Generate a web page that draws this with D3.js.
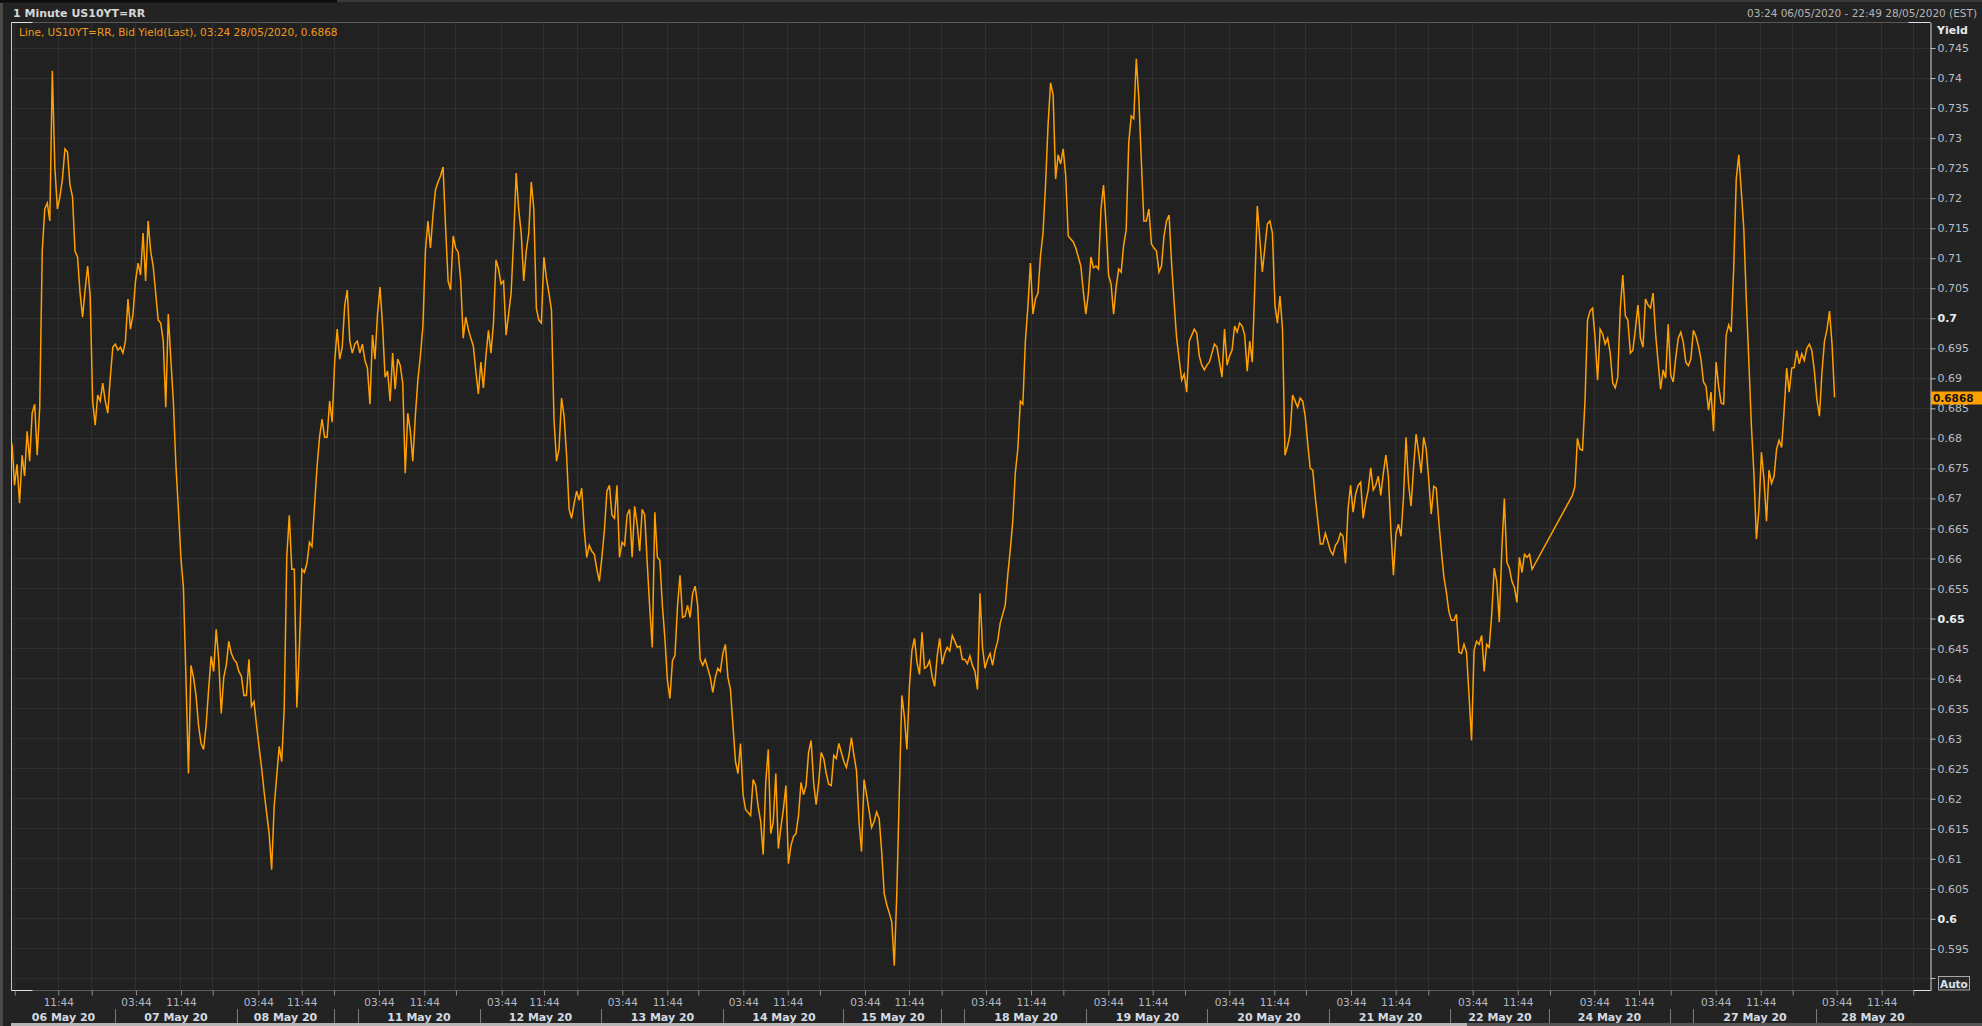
<!DOCTYPE html>
<html>
<head>
<meta charset="utf-8">
<script src="https://cdnjs.cloudflare.com/ajax/libs/d3/7.8.5/d3.min.js"></script>
<style>
  html, body { margin: 0; padding: 0; background: #232323; }
  svg { display: block; }
  text { font-family: "DejaVu Sans", sans-serif; }
</style>
</head>
<body>
<svg id="chart" width="1982" height="1026"></svg>
<script>
// ═══════════════════════════════════════════════
//  1 Minute US10YT=RR — bid yield line
// ═══════════════════════════════════════════════

// x positions are "axis hours": trading time since 03:24 06/05, weekends squeezed out
const STEP_H = 0.5;
const AXIS_END_H = 380.43;

// Bid yield, one reading every STEP_H, week by week
const week1Start = 0;
const week1 = [
  .6792,.6722,.6757,.6692,.6772,.6737,.6812,.6762,.6842,.6857,
  .6772,.6852,.7112,.7182,.7192,.7162,.7412,.7252,.7182,.7202,
  .7232,.7282,.7277,.7222,.7202,.7112,.7102,.7042,.7002,.7047,
  .7087,.7037,.6862,.6822,.6872,.6862,.6892,.6862,.6842,.6902,
  .6952,.6957,.6947,.6952,.6942,.6962,.7032,.6982,.7007,.7062,
  .7092,.7072,.7142,.7062,.7162,.7112,.7087,.7042,.6997,.6992,
  .6962,.6852,.7007,.6932,.6862,.6757,.6682,.6602,.6552,.6402,
  .6242,.6422,.6402,.6372,.6322,.6292,.6282,.6322,.6382,.6437,
  .6412,.6482,.6432,.6342,.6402,.6422,.6462,.6442,.6432,.6427,
  .6412,.6404,.6372,.6372,.6432,.6354,.6362,.6322,.6287,.6252,
  .6212,.6177,.6142,.6082,.6187,.6237,.6287,.6262,.6352,.6602,
  .6672,.6582,.6582,.6352,.6452,.6582,.6577,.6592,.6627,.6620,
  .6687,.6752,.6802,.6832,.6802,.6802,.6862,.6827,.6927,.6982,
  .6932,.6952,.7022,.7047,.6962,.6942,.6957,.6962
];

const week2Start = 69;
const week2 = [
  .6942,.6957,.6930,.6917,.6857,.6972,.6932,.7007,.7052,.6987,
  .6902,.6912,.6862,.6942,.6882,.6932,.6922,.6892,.6742,.6842,
  .6812,.6762,.6837,.6897,.6937,.6987,.7112,.7162,.7117,.7172,
  .7214,.7227,.7237,.7252,.7152,.7062,.7047,.7137,.7117,.7110,
  .7062,.6967,.7002,.6982,.6967,.6954,.6912,.6874,.6927,.6884,
  .6937,.6980,.6942,.6992,.7097,.7082,.7057,.7062,.6972,.7007,
  .7042,.7132,.7242,.7182,.7142,.7062,.7112,.7142,.7227,.7182,
  .7017,.6997,.6992,.7102,.7067,.7042,.7014,.6832,.6762,.6782,
  .6867,.6837,.6772,.6682,.6667,.6692,.6712,.6697,.6717,.6647,
  .6602,.6622,.6612,.6607,.6582,.6562,.6602,.6647,.6712,.6722,
  .6672,.6667,.6722,.6602,.6627,.6622,.6672,.6682,.6602,.6687,
  .6657,.6612,.6682,.6672,.6592,.6517,.6452,.6677,.6602,.6597,
  .6522,.6467,.6397,.6367,.6430,.6439,.6520,.6572,.6502,.6504,
  .6522,.6502,.6542,.6554,.6522,.6432,.6422,.6432,.6417,.6402,
  .6377,.6402,.6417,.6412,.6442,.6457,.6402,.6382,.6322,.6262,
  .6242,.6292,.6207,.6182,.6177,.6172,.6232,.6222,.6187,.6162,
  .6107,.6227,.6282,.6142,.6162,.6242,.6117,.6152,.6182,.6222,
  .6092,.6122,.6137,.6142,.6172,.6227,.6207,.6222,.6277,.6297,
  .6227,.6190,.6227,.6277,.6267,.6242,.6224,.6222,.6272,.6267,
  .6292,.6277,.6262,.6252,.6272,.6302,.6272,.6247,.6162,.6112,
  .6232,.6207,.6180,.6152,.6162,.6178,.6167,.6112,.6042,.6024,
  .6010,.5995,.5922,.6042,.6212,.6372,.6337,.6282,.6387,.6447,
  .6467,.6427,.6407,.6477,.6417,.6420,.6430,.6404,.6387,.6437,
  .6467,.6424,.6442,.6452,.6446,.6472,.6462,.6452,.6454,.6432
];

const week3Start = 189;
const week3 = [
  .6432,.6425,.6438,.6422,.6412,.6382,.6542,.6452,.6417,.6432,
  .6442,.6422,.6447,.6462,.6492,.6507,.6522,.6572,.6614,.6662,
  .6742,.6782,.6862,.6857,.6962,.7019,.7092,.7007,.7032,.7042,
  .7104,.7142,.7222,.7322,.7392,.7372,.7232,.7272,.7257,.7282,
  .7237,.7137,.7132,.7127,.7117,.7102,.7087,.7044,.7007,.7042,
  .7102,.7084,.7087,.7082,.7182,.7222,.7157,.7072,.7057,.7007,
  .7052,.7082,.7077,.7122,.7147,.7292,.7337,.7332,.7432,.7367,
  .7262,.7162,.7162,.7182,.7124,.7117,.7112,.7077,.7087,.7137,
  .7162,.7172,.7092,.7027,.6967,.6932,.6897,.6907,.6877,.6962,
  .6972,.6982,.6975,.6937,.6922,.6914,.6922,.6927,.6942,.6957,
  .6952,.6927,.6902,.6982,.6922,.6937,.6947,.6987,.6977,.6992,
  .6987,.6972,.6912,.6962,.6927,.7052,.7187,.7132,.7077,.7117,
  .7157,.7162,.7142,.7022,.6992,.7037,.6982,.6772,.6787,.6807,
  .6872,.6862,.6852,.6867,.6862,.6837,.6792,.6750,.6747,.6702,
  .6664,.6624,.6624,.6642,.6628,.6613,.6606,.6622,.6628,.6642,
  .6637,.6592,.6682,.6722,.6677,.6707,.6722,.6727,.6667,.6694,
  .6714,.6751,.6714,.6722,.6737,.6705,.6742,.6772,.6737,.6647,
  .6572,.6642,.6657,.6637,.6702,.6802,.6724,.6687,.6752,.6807,
  .6777,.6742,.6802,.6782,.6732,.6674,.6720,.6717,.6662,.6614,
  .6570,.6544,.6512,.6497,.6497,.6507,.6444,.6442,.6457,.6444,
  .6372,.6297,.6447,.6462,.6457,.6472,.6412,.6457,.6452,.6507,
  .6584,.6562,.6494,.6614,.6700,.6594,.6584,.6562,.6552,.6527,
  .6602,.6577,.6607,.6602,.6607,.6582
];

// Memorial Day weekend: no prints between week3 and week4
const week4Start = 309.5;
const week4 = [
  .6705,.6720,.6800,.6782,.6780,.6862,.6997,.7012,.7017,.6967,
  .6897,.6982,.6974,.6957,.6967,.6942,.6892,.6884,.6902,.7017,
  .7072,.7004,.6997,.6942,.6947,.6982,.7022,.6967,.6952,.7032,
  .7022,.7017,.7042,.6974,.6927,.6882,.6914,.6900,.6990,.6905,
  .6894,.6934,.6967,.6977,.6960,.6927,.6921,.6932,.6980,.6970,
  .6954,.6932,.6894,.6887,.6847,.6877,.6812,.6927,.6887,.6859,
  .6857,.6972,.6989,.6977,.7084,.7232,.7272,.7212,.7149,.7030,
  .6928,.6822,.6742,.6632,.6682,.6777,.6732,.6662,.6747,.6725,
  .6737,.6782,.6797,.6785,.6847,.6917,.6877,.6917,.6918,.6946,
  .6924,.6941,.6930,.6950,.6957,.6946,.6912,.6864,.6837,.6910,
  .6962,.6981,.7012,.6957,.6868
];

const LAST_VALUE = 0.6868;

// x axis: labelled ticks (axis hours)
const timeTicks = [
  9.18, 24.59, 33.52, 48.85, 57.46, 72.79, 81.78, 97.13, 105.52, 121.05, 129.98,
  145.05, 153.86, 169.19, 177.92, 193.19, 202.12, 217.45, 226.25, 241.45, 250.37,
  265.59, 274.45, 289.72, 298.65, 313.84, 322.71, 337.92, 346.85, 361.92, 370.85
];
const timeLabels = ["11:44"].concat(d3.range(15).flatMap(() => ["03:44", "11:44"]));
// unlabelled ticks (03:44 on the first day, evening marks)
const minorTicks = [
  0.55, 15.81, 39.81, 63.87, 88.06, 112.13, 136.13, 160.26, 184.4, 208.52,
  232.66, 256.66, 280.92, 305.06, 329.0, 353.19, 377.11
];

// date sections [start, end] in axis hours
const dayNames = [
  "06 May 20","07 May 20","08 May 20","11 May 20","12 May 20","13 May 20",
  "14 May 20","15 May 20","18 May 20","19 May 20","20 May 20","21 May 20",
  "22 May 20","24 May 20","27 May 20","28 May 20"
];
const dayBounds = [
  [0, 20.43], [20.43, 44.63], [44.63, 63.87], [68.63, 92.83], [92.83, 116.83],
  [116.83, 141.22], [141.22, 165.02], [165.02, 184.46], [189.02, 213.22],
  [213.22, 237.22], [237.22, 261.42], [261.42, 285.42], [285.42, 304.86],
  [304.86, 328.86], [333.62, 357.82], [357.82, AXIS_END_H]
];

const yTicks = d3.range(0, 32).map(i => +(0.59 + i * 0.005).toFixed(3));

// ─── layout ───────────────────────────────────
const W = 1982, H = 1026;
const P = { left: 11.5, right: 1930.5, top: 22.5, bottom: 990.5 };

const svg = d3.select("#chart");

const x = d3.scaleLinear().domain([0, AXIS_END_H]).range([12, 1930]);
const y = d3.scaleLinear().domain([0.58807, 0.74925]).range([P.bottom, P.top]);

const crisp = v => Math.round(v - 0.5) + 0.5;

// window chrome
svg.append("rect").attr("width", W).attr("height", H).attr("fill", "#232323");
svg.append("rect").attr("x", 0).attr("y", 0).attr("width", 337).attr("height", 2.5).attr("fill", "#0e0e0e");
svg.append("rect").attr("x", 337).attr("y", 0).attr("width", W - 337).attr("height", 2).attr("fill", "#3a3a3a");
svg.append("rect").attr("x", 0).attr("y", 3).attr("width", 3).attr("height", H - 3).attr("fill", "#4a4a4a");
svg.append("rect").attr("x", 11).attr("y", 1023).attr("width", 1456).attr("height", 3).attr("fill", "#b4b4b4");
svg.append("rect").attr("x", 1467).attr("y", 1023).attr("width", W - 1467).attr("height", 3).attr("fill", "#555");

// plot background
svg.append("rect")
  .attr("x", P.left).attr("y", P.top)
  .attr("width", P.right - P.left).attr("height", P.bottom - P.top)
  .attr("fill", "#212121");

// grid
const grid = svg.append("g").attr("stroke", "#2f2f2f").attr("stroke-width", 1);
grid.selectAll(".hgrid")
  .data(yTicks)
  .join("line")
    .attr("x1", P.left).attr("x2", P.right)
    .attr("y1", d => crisp(y(d))).attr("y2", d => crisp(y(d)));
grid.selectAll(".vgrid")
  .data(timeTicks.concat(minorTicks))
  .join("line")
    .attr("y1", P.top).attr("y2", P.bottom)
    .attr("x1", d => crisp(x(d))).attr("x2", d => crisp(x(d)));

// plot frame: grey edges, white corner brackets
const frame = svg.append("g").attr("fill", "none");
frame.append("line").attr("x1", P.left).attr("x2", P.right).attr("y1", P.top).attr("y2", P.top).attr("stroke", "#5a5a5a");
frame.append("line").attr("x1", P.left).attr("x2", P.right).attr("y1", P.bottom).attr("y2", P.bottom).attr("stroke", "#5a5a5a");
frame.append("line").attr("x1", P.left).attr("x2", P.left).attr("y1", P.top).attr("y2", P.bottom).attr("stroke", "#c8c8c8");
frame.append("path")
  .attr("stroke", "#e0e0e0")
  .attr("d", `M${P.left},${P.top}H${P.left + 21} M${P.left},${P.bottom}H${P.left + 21}
              M${P.right - 22},${P.top}H${P.right} M${P.right - 17},${P.bottom}H${P.right}`);

// ─── series ───────────────────────────────────
const weeks = [[week1Start, week1], [week2Start, week2], [week3Start, week3], [week4Start, week4]];
const points = weeks.flatMap(([start, vals]) => vals.map((v, i) => ({ h: start + i * STEP_H, v })));

const line = d3.line().x(d => x(d.h)).y(d => y(d.v));
svg.append("path")
  .datum(points)
  .attr("d", line)
  .attr("fill", "none")
  .attr("stroke", "#ffa000")
  .attr("stroke-width", 1.5)
  .attr("stroke-linejoin", "miter");

// ─── y axis (right) ───────────────────────────
const yAxis = d3.axisRight(y)
  .tickValues(yTicks.filter(v => v > 0.59))
  .tickSize(5)
  .tickSizeOuter(0)
  .tickPadding(2)
  .tickFormat(d => String(d));

const gy = svg.append("g")
  .attr("transform", `translate(${P.right},0)`)
  .call(yAxis);
gy.select(".domain").attr("stroke", "#d8d8d8");
gy.selectAll(".tick line").attr("stroke", "#bdbdbd");
gy.selectAll(".tick text")
  .attr("fill", d => Math.abs(d * 20 - Math.round(d * 20)) < 1e-6 ? "#e8eef4" : "#b6bec8")
  .attr("font-weight", d => Math.abs(d * 20 - Math.round(d * 20)) < 1e-6 ? "bold" : "normal")
  .attr("font-size", "11px")
  .attr("font-family", "DejaVu Sans");
// 0.59 tick sits behind the Auto button
gy.append("line").attr("x1", 0).attr("x2", 5).attr("y1", crisp(y(0.59))).attr("y2", crisp(y(0.59))).attr("stroke", "#bdbdbd");

svg.append("text")
  .attr("x", 1937).attr("y", 34)
  .attr("font-size", "11px").attr("font-weight", "bold").attr("fill", "#e4e8ec")
  .text("Yield");

// last value flag
const yLast = y(LAST_VALUE);
svg.append("rect")
  .attr("x", 1931).attr("y", Math.round(yLast) - 6.5)
  .attr("width", 51).attr("height", 13)
  .attr("fill", "#ffa000");
svg.append("text")
  .attr("x", 1933).attr("y", Math.round(yLast) + 4)
  .attr("font-size", "10.5px").attr("font-weight", "bold").attr("fill", "#111")
  .text(LAST_VALUE.toFixed(4));

// Auto button
svg.append("rect")
  .attr("x", 1938.5).attr("y", 976.5).attr("width", 31).attr("height", 13.5)
  .attr("fill", "#2a2a2a").attr("stroke", "#a8a8a8");
svg.append("text")
  .attr("x", 1940).attr("y", 987.5)
  .attr("font-size", "10.5px").attr("font-weight", "bold").attr("fill", "#dde3ea")
  .text("Auto");

// ─── x axis ───────────────────────────────────
const labelAt = new Map(timeTicks.map((h, i) => [h, timeLabels[i]]));
const xAxis = d3.axisBottom(x)
  .tickValues(timeTicks.concat(minorTicks))
  .tickSize(5)
  .tickSizeOuter(0)
  .tickPadding(3)
  .tickFormat(h => labelAt.get(h) || "");

const gx = svg.append("g")
  .attr("transform", `translate(0,${P.bottom})`)
  .call(xAxis);
gx.select(".domain").remove();
gx.selectAll(".tick line").attr("stroke", "#8c8c8c");
gx.selectAll(".tick text")
  .attr("fill", "#b2bac4")
  .attr("font-size", "10.5px")
  .attr("font-family", "DejaVu Sans");

// date sections
const seps = Array.from(new Set(dayBounds.flat())).filter(h => h > 0 && h < AXIS_END_H);
svg.append("g").attr("stroke", "#7a7a7a")
  .selectAll("line")
  .data(seps)
  .join("line")
    .attr("x1", d => crisp(x(d))).attr("x2", d => crisp(x(d)))
    .attr("y1", 1009).attr("y2", 1023);

svg.append("g")
  .selectAll("text")
  .data(dayNames)
  .join("text")
    .attr("x", (d, i) => x((dayBounds[i][0] + dayBounds[i][1]) / 2))
    .attr("y", 1020.5)
    .attr("text-anchor", "middle")
    .attr("font-size", "11px").attr("font-weight", "bold").attr("fill", "#d2dae2")
    .text(d => d);

// ─── header texts ─────────────────────────────
svg.append("text")
  .attr("x", 13).attr("y", 17)
  .attr("font-size", "11px").attr("font-weight", "bold").attr("fill", "#d6d6d6")
  .text("1 Minute US10YT=RR");

svg.append("text")
  .attr("x", 1977).attr("y", 17)
  .attr("text-anchor", "end")
  .attr("font-size", "10.5px").attr("fill", "#b4b4b4")
  .text("03:24 06/05/2020 - 22:49 28/05/2020 (EST)");

svg.append("text")
  .attr("x", 19).attr("y", 36)
  .attr("font-size", "10.5px").attr("fill", "#ee9a1c")
  .text(`Line, US10YT=RR, Bid Yield(Last), 03:24 28/05/2020, ${LAST_VALUE.toFixed(4)}`);
</script>
</body>
</html>
